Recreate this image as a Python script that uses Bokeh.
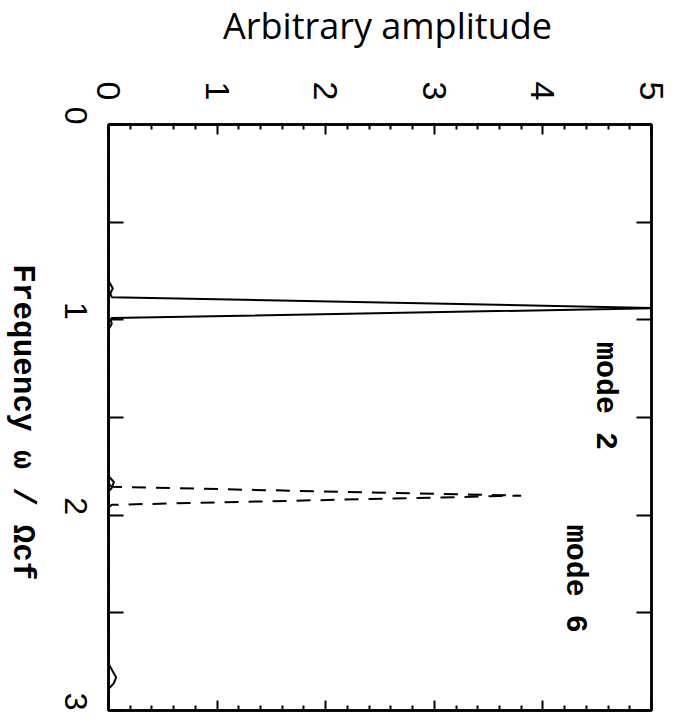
import math
from bokeh.plotting import figure
from bokeh.layouts import row, column
from bokeh.models import Range1d, LinearAxis, FixedTicker, Label, ColumnDataSource
from bokeh.core.properties import value
from bokeh.embed import file_html
from bokeh.resources import INLINE

# ---- data ----
mode2_freq = [0.0, 0.80, 0.84, 0.86, 0.872, 0.884, 0.94, 0.991, 1.0, 1.02, 1.05,
              1.80, 1.83, 1.86, 1.88, 2.76, 2.80, 2.83, 2.86, 2.89, 3.0]
mode2_amp = [0.0, 0.0, 0.04, 0.02, 0.02, 0.03, 5.1, 0.03, 0.02, 0.03, 0.0,
             0.0, 0.05, 0.03, 0.0, 0.0, 0.04, 0.07, 0.05, 0.0, 0.0]

mode6_freq = [0.0, 1.84, 1.855, 1.90, 1.947, 1.96, 3.0]
mode6_amp = [0.0, 0.0, 0.03, 3.8, 0.03, 0.0, 0.0]

amp_ticks = [0, 1, 2, 3, 4, 5]
amp_minor = [0.2, 0.4, 0.6, 0.8, 1.2, 1.4, 1.6, 1.8, 2.2, 2.4, 2.6, 2.8,
             3.2, 3.4, 3.6, 3.8, 4.2, 4.4, 4.6, 4.8]
freq_ticks = [0, 1, 2, 3]
freq_minor = [0.5, 1.5, 2.5]

title_text = "Arbitrary amplitude"
freq_label = "Frequency \u03c9 / \u03a9cf"
mode_labels = ["mode 2", "mode 6"]

def strip(w, h):
    f = figure(width=w, height=h, output_backend="svg", toolbar_location=None,
               x_range=Range1d(0, w), y_range=Range1d(h, 0), title=None,
               x_axis_location=None, y_axis_location=None, min_border=0)
    f.grid.visible = False
    f.outline_line_color = None
    f.background_fill_color = "white"
    f.border_fill_color = "white"
    return f

# ---- top strip with the amplitude title ----
top_strip = strip(675, 60)
top_strip.text(x=[387], y=[25], text=[title_text],
               text_font=value("Open Sans"), text_font_size="36px",
               text_color="black", text_align="center", text_baseline="alphabetic")

# ---- side strip with the rotated frequency label ----
side = strip(40, 665)
side.text(x=[22], y=[338], text=[freq_label], angle=-math.pi / 2,
          text_font=value("Liberation Mono"), text_font_style="bold",
          text_font_size="31px", text_color="black",
          text_align="center", text_baseline="middle")

# ---- main figure ----
p = figure(width=635, height=665, output_backend="svg", toolbar_location=None,
           x_range=Range1d(0, 5), y_range=Range1d(3, 0), title=None,
           x_axis_location="above",
           min_border_left=68, min_border_right=24,
           min_border_top=64, min_border_bottom=15)
p.grid.visible = False
p.outline_line_color = "black"
p.outline_line_width = 2.5
p.background_fill_color = "white"
p.border_fill_color = "white"

def style_axis(ax, major, minor, major_in, minor_in, size, orient):
    ax.ticker = FixedTicker(ticks=major, minor_ticks=minor)
    ax.axis_line_color = "black"
    ax.axis_line_width = 2.5
    ax.major_tick_in = major_in
    ax.major_tick_out = 0
    ax.minor_tick_in = minor_in
    ax.minor_tick_out = 0
    ax.major_tick_line_width = 2
    ax.minor_tick_line_width = 2
    ax.major_tick_line_color = "black"
    ax.minor_tick_line_color = "black"
    if size:
        ax.major_label_text_font = "Liberation Sans"
        ax.major_label_text_font_size = size
        ax.major_label_text_color = "black"
        ax.major_label_orientation = orient
    else:
        ax.major_label_text_font_size = "0px"
        ax.major_label_standoff = 0

top = p.xaxis[0]
style_axis(top, amp_ticks, amp_minor, 10, 5, "34px", -math.pi / 2)
top.major_label_standoff = 24

left = p.yaxis[0]
style_axis(left, freq_ticks, freq_minor, 15, 15, "32px", -math.pi / 2)
left.major_label_standoff = 33

bottom = LinearAxis()
style_axis(bottom, amp_ticks, amp_minor, 10, 5, None, 0)
p.add_layout(bottom, "below")

right = LinearAxis()
style_axis(right, freq_ticks, freq_minor, 15, 15, None, 0)
p.add_layout(right, "right")

# ---- curves ----
src2 = ColumnDataSource(dict(f=mode2_freq, a=mode2_amp))
src6 = ColumnDataSource(dict(f=mode6_freq, a=mode6_amp))
p.line("a", "f", source=src2, line_color="black", line_width=2)
p.line("a", "f", source=src6, line_color="black", line_width=2, line_dash="14 10")

# ---- mode labels ----
p.add_layout(Label(x=4.57, y=1.39, text=mode_labels[0], text_font="Liberation Mono",
                   text_font_style="bold", text_font_size="30px", text_color="black",
                   angle=-math.pi / 2, text_align="center", text_baseline="middle"))
p.add_layout(Label(x=4.30, y=2.325, text=mode_labels[1], text_font="Liberation Mono",
                   text_font_style="bold", text_font_size="30px", text_color="black",
                   angle=-math.pi / 2, text_align="center", text_baseline="middle"))

layout = column(top_strip, row(side, p, spacing=0), spacing=0)
open("out.html", "w").write(file_html(layout, INLINE))
